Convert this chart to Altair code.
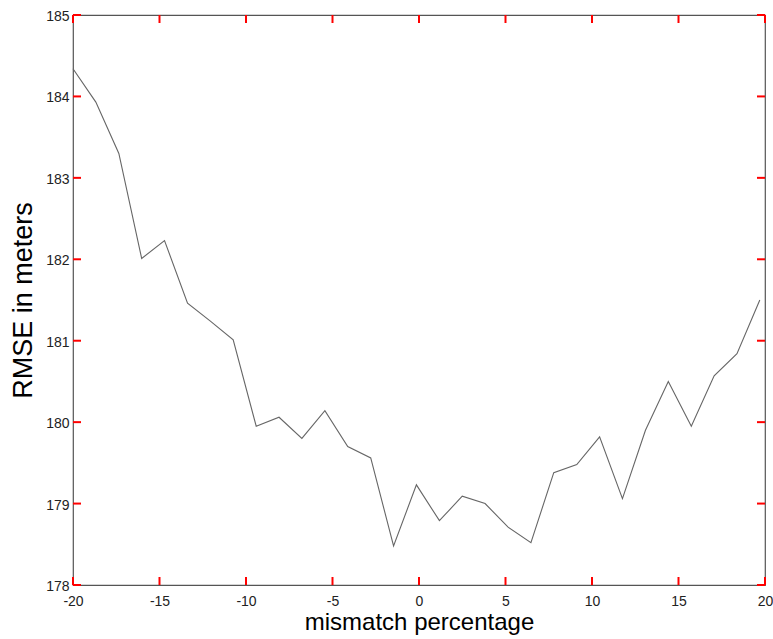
import altair as alt
import pandas as pd

# mismatch percentage (x) and RMSE in meters (y)
mismatch = [-20.0, -18.68, -17.35, -16.03, -14.71, -13.38, -12.06, -10.74, -9.41, -8.09,
            -6.77, -5.44, -4.12, -2.79, -1.47, -0.15, 1.18, 2.50, 3.82, 5.15,
            6.47, 7.79, 9.12, 10.44, 11.76, 13.09, 14.41, 15.74, 17.06, 18.38, 19.70]
rmse = [184.34, 183.93, 183.30, 182.01, 182.23, 181.46, 181.24, 181.01, 179.95, 180.06,
        179.80, 180.14, 179.70, 179.56, 178.48, 179.23, 178.79, 179.09, 179.00, 178.71,
        178.52, 179.38, 179.48, 179.82, 179.06, 179.90, 180.50, 179.95, 180.57, 180.84, 181.50]

x_ticks = [-20, -15, -10, -5, 0, 5, 10, 15, 20]
y_ticks = [178, 179, 180, 181, 182, 183, 184, 185]

df = pd.DataFrame({"x": mismatch, "y": rmse})
tx = pd.DataFrame({"x": x_ticks})
ty = pd.DataFrame({"y": y_ticks})

W, H = 692, 570
FONT = "Liberation Sans"
TICK = 8
TICK_COLOR = "red"
LABEL_COLOR = "#222222"

xscale = alt.Scale(domain=[-20, 20], nice=False, zero=False)
yscale = alt.Scale(domain=[178, 185], nice=False, zero=False)

x_axis = alt.Axis(
    orient="bottom", values=x_ticks, title="mismatch percentage",
    domain=False, grid=False, ticks=False, tickSize=0,
    labelFlush=False, labelOverlap=False,
    labelExpr="'' + datum.value", labelFont=FONT, labelFontSize=14, labelColor=LABEL_COLOR,
    labelPadding=9, labelBaseline="top",
    titleFont=FONT, titleFontSize=24, titleFontWeight="normal", titleColor="#000000",
    titleBaseline="alphabetic", titleY=44)

y_axis = alt.Axis(
    orient="left", values=y_ticks, title="RMSE in meters",
    domain=False, grid=False, ticks=False, tickSize=0,
    labelFlush=False, labelOverlap=False,
    labelExpr="'' + datum.value", labelFont=FONT, labelFontSize=14, labelColor=LABEL_COLOR,
    labelPadding=4, labelBaseline="middle", labelOffset=1.5,
    titleFont=FONT, titleFontSize=27, titleFontWeight="normal", titleColor="#000000",
    titleBaseline="alphabetic", titleX=-42)

line = alt.Chart(df).mark_line(color="#666666", strokeWidth=1.1).encode(
    x=alt.X("x:Q", scale=xscale, axis=x_axis),
    y=alt.Y("y:Q", scale=yscale, axis=y_axis),
)

rule_style = dict(color=TICK_COLOR, strokeWidth=2, opacity=1)
bottom_ticks = alt.Chart(tx).mark_rule(**rule_style).encode(
    x=alt.X("x:Q", scale=xscale, axis=x_axis), y=alt.value(H), y2=alt.value(H - TICK))
top_ticks = alt.Chart(tx).mark_rule(**rule_style).encode(
    x=alt.X("x:Q", scale=xscale, axis=x_axis), y=alt.value(0), y2=alt.value(TICK))
left_ticks = alt.Chart(ty).mark_rule(**rule_style).encode(
    y=alt.Y("y:Q", scale=yscale, axis=y_axis), x=alt.value(0), x2=alt.value(TICK))
right_ticks = alt.Chart(ty).mark_rule(**rule_style).encode(
    y=alt.Y("y:Q", scale=yscale, axis=y_axis), x=alt.value(W), x2=alt.value(W - TICK))

chart = alt.layer(line, bottom_ticks, top_ticks, left_ticks, right_ticks).properties(
    width=W, height=H,
    autosize=alt.AutoSizeParams(type="none"),
    padding={"left": 73, "top": 15, "right": 8, "bottom": 54},
    background="white",
).configure_view(stroke="#555555", strokeWidth=1.2)

chart.save("out.html", embed_options={"renderer": "svg", "actions": False})
